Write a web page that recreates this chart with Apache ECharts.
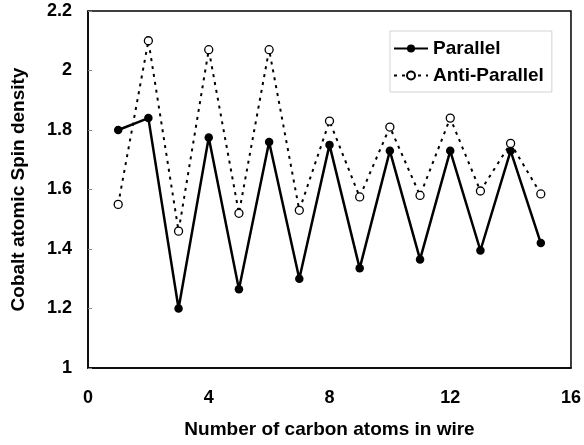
<!DOCTYPE html>
<html>
<head>
<meta charset="utf-8">
<script src="https://cdn.jsdelivr.net/npm/echarts@6/dist/echarts.min.js"></script>
<style>html,body{margin:0;padding:0;background:#fff}#c{width:584px;height:445px}</style>
</head>
<body>
<div id="c"></div>
<script>
var carbonAtoms = [1,2,3,4,5,6,7,8,9,10,11,12,13,14,15];
var parallel = [1.80,1.84,1.20,1.775,1.265,1.76,1.30,1.75,1.335,1.73,1.365,1.73,1.395,1.73,1.42];
var antiParallel = [1.55,2.10,1.46,2.07,1.52,2.07,1.53,1.83,1.575,1.81,1.58,1.84,1.595,1.755,1.585];
var xTicks = [0,4,8,12,16];
var yTicks = [1,1.2,1.4,1.6,1.8,2,2.2];

function pairs(xs, ys){ return xs.map(function(x,i){ return [x, ys[i]]; }); }

var font = 'Liberation Sans, Arial, sans-serif';
var chart = echarts.init(document.getElementById('c'), null, {renderer:'canvas'});
chart.setOption({
  animation: false,
  backgroundColor: '#fff',
  textStyle: {fontFamily: font},
  grid: {left: 88, right: 12, top: 11, bottom: 77, show: true, borderColor: '#000', borderWidth: 1.5, backgroundColor: 'transparent'},
  legend: {
    left: 390, top: 31,
    orient: 'vertical',
    itemWidth: 34, itemHeight: 10, itemGap: 8,
    padding: [8, 8, 7, 3],
    borderColor: '#c8c8c8', borderWidth: 0.8,
    textStyle: {fontFamily: font, fontWeight: 'bold', fontSize: 19, color: '#000'},
    data: ['Parallel', 'Anti-Parallel']
  },
  xAxis: {
    type: 'value', min: xTicks[0], max: xTicks[xTicks.length-1], interval: 4,
    name: 'Number of carbon atoms in wire', nameLocation: 'middle', nameGap: 52,
    nameTextStyle: {fontFamily: font, fontWeight: 'bold', fontSize: 19, color: '#000'},
    axisLine: {show: true, lineStyle: {color: '#000', width: 1.5}},
    axisTick: {show: false},
    splitLine: {show: false},
    axisLabel: {fontFamily: font, fontWeight: 'bold', fontSize: 18, color: '#000', margin: 21}
  },
  yAxis: {
    type: 'value', min: yTicks[0], max: yTicks[yTicks.length-1], interval: 0.2,
    name: 'Cobalt atomic Spin density', nameLocation: 'middle', nameGap: 60,
    nameTextStyle: {fontFamily: font, fontWeight: 'bold', fontSize: 19, color: '#000'},
    axisLine: {show: true, lineStyle: {color: '#000', width: 1.5}},
    axisTick: {show: true, inside: true, length: 4, lineStyle: {color: '#888', width: 1}},
    splitLine: {show: false},
    axisLabel: {fontFamily: font, fontWeight: 'bold', fontSize: 18, color: '#000', margin: 16,
      formatter: function(v){ return String(+v.toFixed(1)); }}
  },
  series: [
    {
      name: 'Parallel', type: 'line', data: pairs(carbonAtoms, parallel),
      symbol: 'circle', symbolSize: 8.5,
      lineStyle: {color: '#000', width: 2.5},
      itemStyle: {color: '#000'}
    },
    {
      name: 'Anti-Parallel', type: 'line', data: pairs(carbonAtoms, antiParallel),
      symbol: 'circle', symbolSize: 8,
      lineStyle: {color: '#000', width: 2, type: [3, 5]},
      itemStyle: {color: '#fff', borderColor: '#000', borderWidth: 1.3}
    }
  ]
});
</script>
</body>
</html>
